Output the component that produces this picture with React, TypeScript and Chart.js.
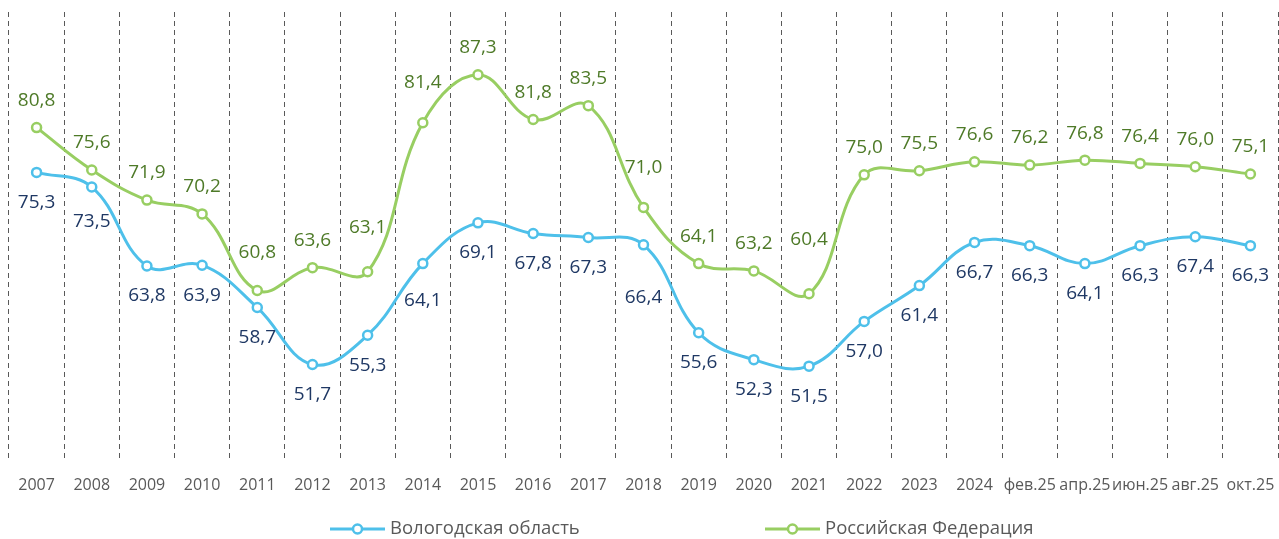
import React, { useEffect, useRef } from "react";
import { Chart, registerables } from "chart.js";

Chart.register(...registerables);

const categories = [
  "2007", "2008", "2009", "2010", "2011", "2012", "2013", "2014", "2015", "2016",
  "2017", "2018", "2019", "2020", "2021", "2022", "2023", "2024",
  "фев.25", "апр.25", "июн.25", "авг.25", "окт.25",
];

const vologdaValues = [
  75.3, 73.5, 63.8, 63.9, 58.7, 51.7, 55.3, 64.1, 69.1, 67.8,
  67.3, 66.4, 55.6, 52.3, 51.5, 57.0, 61.4, 66.7,
  66.3, 64.1, 66.3, 67.4, 66.3,
];

const russiaValues = [
  80.8, 75.6, 71.9, 70.2, 60.8, 63.6, 63.1, 81.4, 87.3, 81.8,
  83.5, 71.0, 64.1, 63.2, 60.4, 75.0, 75.5, 76.6,
  76.2, 76.8, 76.4, 76.0, 75.1,
];

const seriesNames = ["Вологодская область", "Российская Федерация"];

const BLUE = "#4EC0EA";
const BLUE_TEXT = "#1F3864";
const GREEN = "#98CE62";
const GREEN_TEXT = "#4E7A28";
const GREY = "#595959";
const FONT = "'Open Sans', 'Noto Sans', sans-serif";

// label placement (pixel shift of each data label from its point)
const vologdaLabelShift: Record<number, number> = { 1: 35, 7: 37, 11: 53 };
const russiaLabelShift: Record<number, number> = { 4: -38, 6: -44, 7: -40, 11: -40, 14: -54 };
const labelShiftDefault = [30, -27];
const labelShifts = [vologdaLabelShift, russiaLabelShift];
const labelColors = [BLUE_TEXT, GREEN_TEXT];
const lineColors = [BLUE, GREEN];

const fmt = (v: number) => v.toFixed(1).replace(".", ",");

const dataLabelsPlugin = {
  id: "dataLabelsCustom",
  afterDatasetsDraw(chart: any) {
    const ctx = chart.ctx;
    ctx.save();
    ctx.font = `19px ${FONT}`;
    ctx.textAlign = "center";
    ctx.textBaseline = "middle";
    chart.data.datasets.forEach((ds: any, di: number) => {
      const meta = chart.getDatasetMeta(di);
      ctx.fillStyle = labelColors[di];
      meta.data.forEach((pt: any, i: number) => {
        const shift = labelShifts[di][i] ?? labelShiftDefault[di];
        ctx.fillText(fmt(ds.data[i]), pt.x, pt.y + shift);
      });
    });
    ctx.restore();
  },
};

const legendPlugin = {
  id: "legendCustom",
  afterDraw(chart: any) {
    const ctx = chart.ctx;
    const y = 529;
    const x0 = 330;
    const step = 435;
    ctx.save();
    ctx.font = `18.5px ${FONT}`;
    ctx.textBaseline = "middle";
    ctx.textAlign = "left";
    seriesNames.forEach((name, i) => {
      const x = x0 + i * step;
      ctx.strokeStyle = lineColors[i];
      ctx.lineWidth = 3;
      ctx.beginPath();
      ctx.moveTo(x, y);
      ctx.lineTo(x + 55, y);
      ctx.stroke();
      ctx.beginPath();
      ctx.arc(x + 27.5, y, 4.5, 0, Math.PI * 2);
      ctx.fillStyle = "#ffffff";
      ctx.fill();
      ctx.lineWidth = 2.5;
      ctx.stroke();
      ctx.fillStyle = GREY;
      ctx.fillText(name, x + 60, y);
    });
    ctx.restore();
  },
};

export default function App() {
  const canvasRef = useRef<HTMLCanvasElement | null>(null);

  useEffect(() => {
    if (!canvasRef.current) return;
    const chart = new Chart(canvasRef.current, {
      type: "line",
      data: {
        labels: categories,
        datasets: [
          {
            label: seriesNames[0],
            data: vologdaValues,
            borderColor: BLUE,
            borderWidth: 3,
            tension: 0.4,
            pointRadius: 4.5,
            pointBorderWidth: 2.5,
            pointBackgroundColor: "#ffffff",
            pointBorderColor: BLUE,
            clip: false as any,
          },
          {
            label: seriesNames[1],
            data: russiaValues,
            borderColor: GREEN,
            borderWidth: 3,
            tension: 0.4,
            pointRadius: 4.5,
            pointBorderWidth: 2.5,
            pointBackgroundColor: "#ffffff",
            pointBorderColor: GREEN,
            clip: false as any,
          },
        ],
      },
      options: {
        responsive: true,
        maintainAspectRatio: false,
        animation: false,
        layout: { autoPadding: false, padding: { left: 9, right: 1, top: 12, bottom: 42 } },
        plugins: {
          legend: { display: false },
          tooltip: { enabled: false },
        },
        scales: {
          x: {
            offset: true,
            afterFit: (scale: any) => {
              scale.paddingLeft = 0;
              scale.paddingRight = 0;
            },
            grid: {
              offset: true,
              drawTicks: true,
              tickLength: 14,
              tickColor: "rgba(0,0,0,0)",
              color: GREY,
              lineWidth: 1,
            },
            border: { display: false, dash: [5, 4] },
            ticks: {
              autoSkip: false,
              maxRotation: 0,
              minRotation: 0,
              padding: 2,
              color: GREY,
              font: { family: FONT, size: 16 },
            },
          },
          y: {
            display: false,
            min: 40,
            max: 95,
          },
        },
      },
      plugins: [dataLabelsPlugin, legendPlugin],
    });
    return () => chart.destroy();
  }, []);

  return (
    <div style={{ position: "absolute", left: 0, top: 0, width: 1279, height: 539 }}>
      <canvas ref={canvasRef} />
    </div>
  );
}
